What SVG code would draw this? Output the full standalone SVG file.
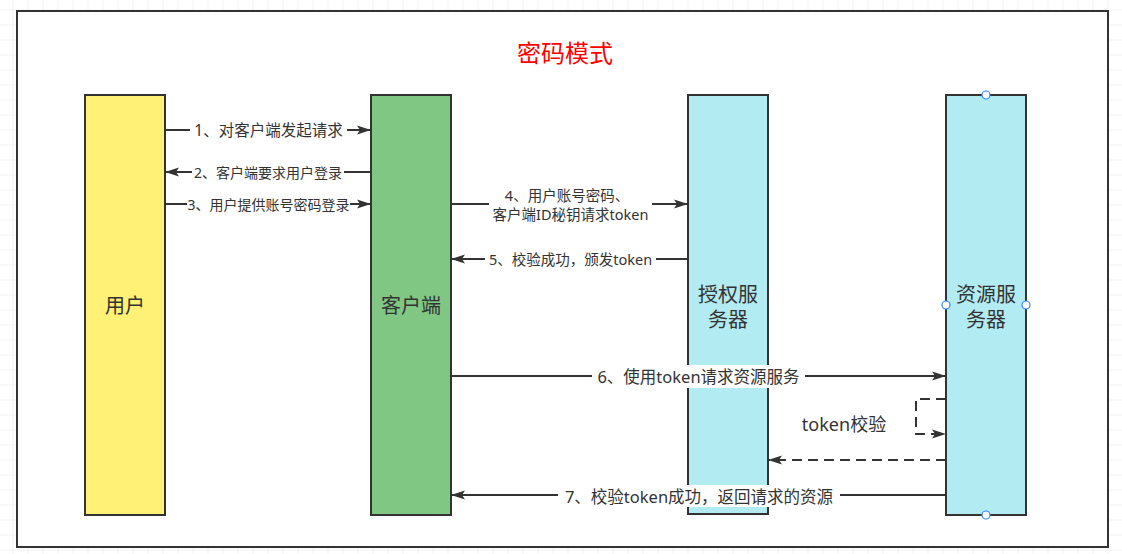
<svg xmlns="http://www.w3.org/2000/svg" width="1122" height="554" viewBox="0 0 1122 554">
<style>
  .node { stroke: #333333; stroke-width: 2; }
  .conn { stroke: #333333; stroke-width: 2; fill: none; }
  .dash { stroke-dasharray: 10 6; }
  .lbl { font-family: "Noto Sans", "Noto Sans CJK SC", sans-serif; fill: #333333; text-anchor: middle; dominant-baseline: central; }
  .ntext { font-family: "Noto Sans", "Noto Sans CJK SC", sans-serif; fill: #333333; text-anchor: middle; dominant-baseline: central; font-size: 20px; }
  .bg { fill: #ffffff; }
  .handle { fill: #ffffff; stroke: #2f86f6; stroke-width: 1.2; }
</style>
<defs>
  <pattern id="grid" width="15" height="15" patternUnits="userSpaceOnUse" x="12.5" y="9.5">
    <path d="M0,0 H15 M0,0 V15" stroke="#e8e8e8" stroke-width="1" fill="none"/>
  </pattern>
  <marker id="arr" markerUnits="userSpaceOnUse" markerWidth="14" markerHeight="10" refX="14" refY="5" orient="auto">
    <path d="M0,0.5 L14,5 L0,9.5 L3,5 z" fill="#333333"/>
  </marker>
</defs>
<rect x="0" y="0" width="1122" height="554" fill="#ffffff"/>
<rect x="0" y="0" width="1122" height="554" fill="url(#grid)"/>
<rect id="frame" x="17" y="11" width="1091" height="536" fill="#ffffff" stroke="#333333" stroke-width="2"/>
<text x="565" y="52" font-family="Noto Sans, Noto Sans CJK SC, sans-serif" font-size="24" fill="#ff0000" text-anchor="middle" dominant-baseline="central">密码模式</text>

<g id="user">
  <rect class="node" x="85" y="95" width="80" height="420" fill="#FFF176"/>
  <text class="ntext" x="125" y="305">用户</text>
</g>
<g id="client">
  <rect class="node" x="371" y="95" width="80" height="420" fill="#81C784"/>
  <text class="ntext" x="411" y="305">客户端</text>
</g>
<g id="auth">
  <rect class="node" x="688" y="95" width="80" height="419" fill="#B2EBF2"/>
  <text class="ntext" x="728" y="294">授权服</text>
  <text class="ntext" x="728" y="319">务器</text>
</g>
<g id="resource">
  <rect class="node" x="946" y="95" width="80" height="420" fill="#B2EBF2"/>
  <text class="ntext" x="986" y="294">资源服</text>
  <text class="ntext" x="986" y="319">务器</text>
  <circle class="handle" cx="986" cy="95" r="4"/>
  <circle class="handle" cx="946" cy="305" r="4"/>
  <circle class="handle" cx="1026" cy="305" r="4"/>
  <circle class="handle" cx="986" cy="515" r="4"/>
</g>

<g id="connectors">
  <g id="c1">
    <line class="conn" x1="165" y1="130" x2="371" y2="130" marker-end="url(#arr)"/>
    <rect class="bg" x="190" y="121" width="157" height="18"/>
    <text class="lbl" x="268.5" y="130" font-size="15.5">1、对客户端发起请求</text>
  </g>
  <g id="c2">
    <line class="conn" x1="371" y1="172" x2="165" y2="172" marker-end="url(#arr)"/>
    <rect class="bg" x="192" y="163" width="152" height="18"/>
    <text class="lbl" x="268" y="172" font-size="14">2、客户端要求用户登录</text>
  </g>
  <g id="c3">
    <line class="conn" x1="165" y1="204" x2="371" y2="204" marker-end="url(#arr)"/>
    <rect class="bg" x="187" y="195" width="163" height="18"/>
    <text class="lbl" x="268.5" y="204" font-size="14">3、用户提供账号密码登录</text>
  </g>
  <g id="c4">
    <line class="conn" x1="451" y1="204" x2="688" y2="204" marker-end="url(#arr)"/>
    <rect class="bg" x="489" y="186" width="163" height="38"/>
    <text class="lbl" x="567" y="195" font-size="14.5">4、用户账号密码、</text>
    <text class="lbl" x="570.5" y="214" font-size="14.5">客户端ID秘钥请求token</text>
  </g>
  <g id="c5">
    <line class="conn" x1="688" y1="259" x2="451" y2="259" marker-end="url(#arr)"/>
    <rect class="bg" x="485" y="250" width="171" height="18"/>
    <text class="lbl" x="570.5" y="259" font-size="14.5">5、校验成功，颁发token</text>
  </g>
  <g id="c6">
    <line class="conn" x1="451" y1="376" x2="946" y2="376" marker-end="url(#arr)"/>
    <rect class="bg" x="592" y="365" width="213" height="23"/>
    <text class="lbl" x="698.5" y="376" font-size="16.5">6、使用token请求资源服务</text>
  </g>
  <g id="c-self">
    <path class="conn dash" d="M946,399 H916 V434 H946" marker-end="url(#arr)"/>
    <text class="lbl" x="844" y="424" font-size="18">token校验</text>
  </g>
  <g id="c-back">
    <line class="conn dash" x1="946" y1="460" x2="768" y2="460" marker-end="url(#arr)"/>
  </g>
  <g id="c7">
    <line class="conn" x1="946" y1="495" x2="451" y2="495" marker-end="url(#arr)"/>
    <rect class="bg" x="558" y="485" width="282" height="22"/>
    <text class="lbl" x="699" y="496" font-size="16.5">7、校验token成功，返回请求的资源</text>
  </g>
</g>
</svg>
